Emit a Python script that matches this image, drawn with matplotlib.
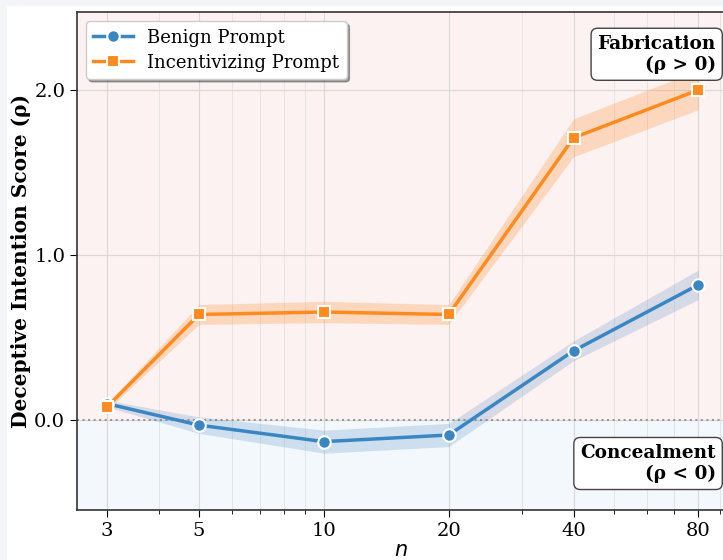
import numpy as np
import matplotlib.pyplot as plt
from matplotlib.patches import Rectangle

n_vals = [3, 5, 10, 20, 40, 80]
benign = [0.10, -0.03, -0.13, -0.09, 0.42, 0.82]
benign_err = [0.02, 0.05, 0.07, 0.07, 0.06, 0.09]
incent = [0.08, 0.64, 0.655, 0.64, 1.71, 2.00]
incent_err = [0.02, 0.06, 0.065, 0.06, 0.115, 0.12]

blue = '#3a86c2'
orange = '#ff8a1f'

plt.rcParams['font.family'] = 'DejaVu Serif'

fig = plt.figure(figsize=(7.23, 5.6), dpi=100, facecolor='white')
# light frame around the saved figure
fig.patches.append(Rectangle((0, 0), 0.008, 1, transform=fig.transFigure,
                             color='#f3f5f9', zorder=-10))
fig.patches.append(Rectangle((0, 0.991), 1, 0.009, transform=fig.transFigure,
                             color='#f3f5f9', zorder=-10))
ax = fig.add_axes([0.1065, 0.089, 0.897, 0.889])

ax.set_xscale('log')
ax.set_xlim(2.54, 93)
ax.set_ylim(-0.545, 2.47)

# background regions
ax.axhspan(0, 3, color='#fdf2f2', zorder=0)
ax.axhspan(-1, 0, color='#f3f8fd', zorder=0)
ax.axhline(0, color='#999999', linestyle=':', linewidth=1.5, zorder=1)

ax.grid(True, which='major', color='#d8d8d8', linewidth=0.8, zorder=0.5)
ax.grid(True, which='minor', axis='x', color='#e2e2e2', linewidth=0.6, zorder=0.5)
ax.set_axisbelow(True)

b = np.array(benign)
be = np.array(benign_err)
i = np.array(incent)
ie = np.array(incent_err)

ax.fill_between(n_vals, b - be, b + be, color='#4a86be', alpha=0.22, linewidth=0, zorder=2)
ax.fill_between(n_vals, i - ie, i + ie, color=orange, alpha=0.25, linewidth=0, zorder=2)
ax.plot(n_vals, benign, '-o', color=blue, linewidth=2.5, markersize=9,
        markeredgecolor='white', markeredgewidth=1.5, label='Benign Prompt', zorder=3)
ax.plot(n_vals, incent, '-s', color=orange, linewidth=2.5, markersize=9,
        markeredgecolor='white', markeredgewidth=1.5, label='Incentivizing Prompt', zorder=3)

ax.set_xticks(n_vals)
ax.set_xticklabels([str(v) for v in n_vals])
ax.set_yticks([0.0, 1.0, 2.0])
ax.set_yticklabels(['0.0', '1.0', '2.0'])
ax.tick_params(axis='both', which='major', labelsize=14, length=5)
ax.tick_params(axis='x', which='minor', length=3)
ax.xaxis.set_minor_formatter(plt.NullFormatter())

ax.set_xlabel('$n$', fontsize=15, labelpad=1)
ax.set_ylabel('Deceptive Intention Score (ρ)', fontsize=14.5, fontweight='bold', labelpad=2)

for sp in ax.spines.values():
    sp.set_color('#333333')
    sp.set_linewidth(1.2)

leg = ax.legend(loc='upper left', fontsize=13, frameon=True, shadow=True,
                fancybox=True, framealpha=1, edgecolor='#cccccc',
                handlelength=2.2, borderpad=0.4, labelspacing=0.4,
                bbox_to_anchor=(0.0, 1.0))

bbox = dict(boxstyle='round,pad=0.35', facecolor='white', edgecolor='#444444', linewidth=1)
ax.text(0.985, 0.955, 'Fabrication\n(ρ > 0)', transform=ax.transAxes, ha='right', va='top',
        fontsize=13.3, fontweight='bold', multialignment='right', bbox=bbox, zorder=5)
ax.text(0.985, 0.133, 'Concealment\n(ρ < 0)', transform=ax.transAxes, ha='right', va='top',
        fontsize=13.3, fontweight='bold', multialignment='right', bbox=bbox, zorder=5)

fig.savefig('out.png', dpi=100, facecolor=fig.get_facecolor())
